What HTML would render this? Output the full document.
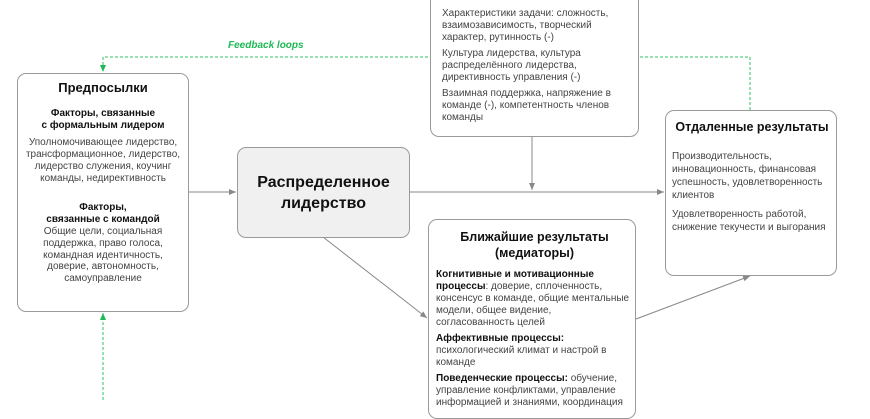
<!DOCTYPE html>
<html><head><meta charset="utf-8"><style>
body{margin:0;width:870px;height:400px;overflow:hidden;background:#fff;font-family:"Liberation Sans",sans-serif;position:relative;color:#222}
.b{position:absolute;border:1px solid #9a9a9a;border-radius:9px;background:#fff;box-sizing:border-box}
.t{font-weight:bold;color:#111}
p{margin:0}
</style></head><body>
<svg width="870" height="400" style="position:absolute;left:0;top:0">
<defs>
<marker id="a" markerWidth="8" markerHeight="8" refX="7" refY="4" orient="auto" markerUnits="userSpaceOnUse"><path d="M0,1 L7,4 L0,7z" fill="#888"/></marker>
<marker id="g" markerWidth="8" markerHeight="8" refX="7" refY="4" orient="auto" markerUnits="userSpaceOnUse"><path d="M0,1 L7,4 L0,7z" fill="#1db954"/></marker>
</defs>
<polyline points="750,110 750,57 103,57 103,72" fill="none" stroke="#2cc06a" stroke-width="1" stroke-dasharray="3,2" marker-end="url(#g)"/>
<line x1="103" y1="400" x2="103" y2="313" stroke="#2cc06a" stroke-dasharray="3,2" marker-end="url(#g)"/>
<line x1="188" y1="192" x2="236" y2="192" stroke="#888" marker-end="url(#a)"/>
<line x1="409" y1="192" x2="664" y2="192" stroke="#888" marker-end="url(#a)"/>
<line x1="532" y1="136" x2="532" y2="190" stroke="#888" marker-end="url(#a)"/>
<line x1="323" y1="237" x2="427" y2="318" stroke="#888" marker-end="url(#a)"/>
<line x1="636" y1="319" x2="750" y2="276" stroke="#888" marker-end="url(#a)"/>
</svg>
<div style="position:absolute;left:228px;top:40px;font-size:10px;font-weight:bold;font-style:italic;color:#1db954">Feedback loops</div>
<div class="b" style="left:17px;top:73px;width:172px;height:239px;text-align:center;font-size:10px;line-height:12px;padding:0 3px">
<div class="t" style="font-size:13px;margin-top:8px">Предпосылки</div>
<p class="t" style="margin-top:14px">Факторы, связанные<br>с формальным лидером</p>
<p style="margin-top:5px;color:#444">Уполномочивающее лидерство, трансформационное, лидерство, лидерство служения, коучинг команды, недирективность</p>
<p class="t" style="margin-top:17px">Факторы,<br>связанные с командой</p>
<p style="color:#444;line-height:11.8px">Общие цели, социальная поддержка, право голоса, командная идентичность, доверие, автономность, самоуправление</p>
</div>
<div class="b" style="left:237px;top:147px;width:173px;height:91px;background:#f0f0f0;text-align:center;font-size:16px;font-weight:bold;line-height:21px;padding-top:24px;color:#111">Распределенное<br>лидерство</div>
<div class="b" style="left:430px;top:-10px;width:209px;height:147px;font-size:10px;line-height:12px;padding:17px 6px 0 11px;color:#444">
<p>Характеристики задачи: сложность, взаимозависимость, творческий характер, рутинность (-)</p>
<p style="margin-top:4px">Культура лидерства, культура распределённого лидерства, директивность управления (-)</p>
<p style="margin-top:4px">Взаимная поддержка, напряжение в команде (-), компетентность членов команды</p>
</div>
<div class="b" style="left:665px;top:110px;width:172px;height:166px;font-size:10px;line-height:13px;padding:0 4px 0 6px">
<div class="t" style="font-size:12.5px;margin-top:10px;text-align:center">Отдаленные результаты</div>
<p style="margin-top:16px;color:#444">Производительность, инновационность, финансовая успешность, удовлетворенность клиентов</p>
<p style="margin-top:6px;color:#444">Удовлетворенность работой, снижение текучести и выгорания</p>
</div>
<div class="b" style="left:428px;top:219px;width:208px;height:200px;font-size:10px;line-height:12px;padding:0 2px 0 7px;color:#444">
<div class="t" style="font-size:12.5px;line-height:16px;margin-top:9px;text-align:center">Ближайшие результаты<br>(медиаторы)</div>
<p style="margin-top:8px"><b style="color:#111">Когнитивные и мотивационные<br>процессы</b>: доверие, сплоченность,<br>консенсус в команде, общие ментальные<br>модели, общее видение,<br>согласованность целей</p>
<p style="margin-top:4px"><b style="color:#111">Аффективные процессы:</b><br>психологический климат и настрой в<br>команде</p>
<p style="margin-top:4px"><b style="color:#111">Поведенческие процессы:</b> обучение,<br>управление конфликтами, управление<br>информацией и знаниями, координация</p>
</div>
</body></html>
